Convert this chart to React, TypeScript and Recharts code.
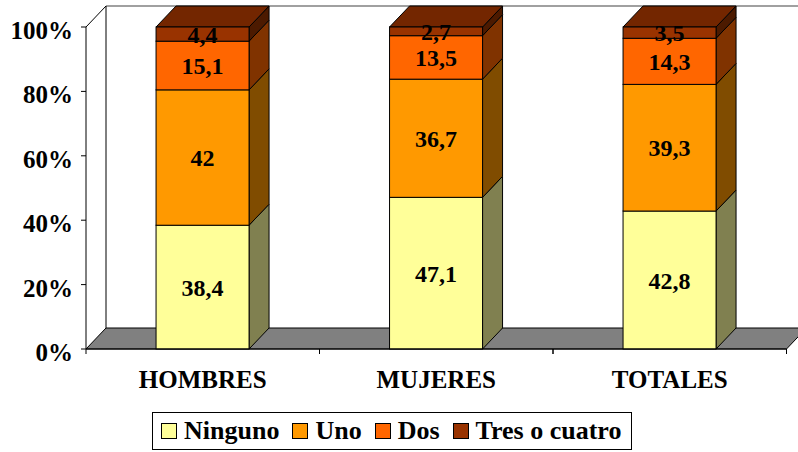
import React from 'react';
import { BarChart, Bar, XAxis, YAxis, LabelList } from 'recharts';

const categories = ['HOMBRES', 'MUJERES', 'TOTALES'];
const ninguno = [38.4, 47.1, 42.8];
const uno = [42, 36.7, 39.3];
const dos = [15.1, 13.5, 14.3];
const tres = [4.4, 2.7, 3.5];
const seriesKeys = ['ninguno', 'uno', 'dos', 'tres'];
const seriesNames = ['Ninguno', 'Uno', 'Dos', 'Tres o cuatro'];
const frontColors = ['#FFFF99', '#FF9900', '#FF6600', '#993300'];
const sideColors = ['#808050', '#804C00', '#803300', '#4C1A00'];
const topColor = '#732600';
const yTicks = [0, 0.2, 0.4, 0.6, 0.8, 1];
const yTickLabels = ['0%', '20%', '40%', '60%', '80%', '100%'];

const data = categories.map((name, i) => ({
  name,
  ninguno: ninguno[i],
  uno: uno[i],
  dos: dos[i],
  tres: tres[i],
}));

const W = 798;
const H = 452;
const M = { top: 27, right: 11.5, left: 0, bottom: 63 };
const Y_W = 86;
const X_H = 40;
const DX = 20;
const DY = 21;
const FONT = 'Liberation Serif, Times New Roman, DejaVu Serif, serif';

const PL = M.left + Y_W;
const PT = M.top;
const PR = W - M.right;
const PB = H - M.bottom - X_H;

const makeShape = (front: string, side: string, top: string | null) => (props: any) => {
  const { x, y, width, height } = props;
  if (width == null || height == null) return null;
  const w = width;
  const h = height;
  return (
    <g>
      <polygon
        points={`${x + w},${y} ${x + w + DX},${y - DY} ${x + w + DX},${y + h - DY} ${x + w},${y + h}`}
        fill={side}
        stroke="#000"
        strokeWidth={1}
      />
      {top && (
        <polygon
          points={`${x},${y} ${x + DX},${y - DY} ${x + w + DX},${y - DY} ${x + w},${y}`}
          fill={top}
          stroke="#000"
          strokeWidth={1}
        />
      )}
      <rect x={x} y={y} width={w} height={h} fill={front} stroke="#000" strokeWidth={1} />
    </g>
  );
};

const fmt = (v: any) => String(v).replace('.', ',');

const DataLabel = (props: any) => {
  const { x, y, width, height, value } = props;
  return (
    <text
      x={x + width / 2}
      y={y + height / 2}
      dy={8.5}
      textAnchor="middle"
      style={{ fontFamily: FONT, fontWeight: 'bold', fontSize: 24 }}
      fill="#000"
    >
      {fmt(value)}
    </text>
  );
};

const YTick = (props: any) => {
  const { x, y, payload } = props;
  const idx = yTicks.indexOf(payload.value);
  return (
    <text x={x} y={y + 12} textAnchor="end" style={{ fontFamily: FONT, fontWeight: 'bold', fontSize: 25 }} fill="#000">
      {idx >= 0 ? yTickLabels[idx] : ''}
    </text>
  );
};

const XTick = (props: any) => {
  const { x, y, payload } = props;
  const off = payload && payload.offset ? payload.offset : 116.75;
  const axisY = y - 7;
  return (
    <g>
      <line x1={x - off} y1={axisY} x2={x - off} y2={axisY + 5} stroke="#000" />
      <line x1={x + off} y1={axisY} x2={x + off} y2={axisY + 5} stroke="#000" />
      <text x={x} y={y + 31.5} textAnchor="middle" style={{ fontFamily: FONT, fontWeight: 'bold', fontSize: 25 }} fill="#000">
        {payload.value}
      </text>
    </g>
  );
};

const Frame = () => (
  <svg width={W} height={H} style={{ position: 'absolute', left: 0, top: 0 }}>
    <polygon points={`${PL},${PB} ${PL},${PT} ${PL + DX},${PT - DY} ${PL + DX},${PB - DY}`} fill="#fff" />
    <line x1={PL + DX} y1={PT - DY} x2={W + 10} y2={PT - DY} stroke="#808080" strokeWidth={1.5} />
    <line x1={PL} y1={PT} x2={PL + DX} y2={PT - DY} stroke="#000" />
    <line x1={PL + DX} y1={PT - DY} x2={PL + DX} y2={PB - DY} stroke="#000" />
    <polygon
      points={`${PL},${PB} ${PL + DX},${PB - DY} ${PR + DX},${PB - DY} ${PR},${PB}`}
      fill="#808080"
      stroke="#000"
      strokeWidth={1}
    />
  </svg>
);

const Legend = () => (
  <div
    style={{
      position: 'absolute',
      left: 152,
      top: 412,
      width: 480,
      height: 38,
      boxSizing: 'border-box',
      border: '1px solid #000',
      background: '#fff',
      display: 'flex',
      alignItems: 'center',
      paddingLeft: 8,
      fontFamily: FONT,
      fontWeight: 'bold',
      fontSize: 26,
      whiteSpace: 'nowrap',
    }}
  >
    {seriesNames.map((n, i) => (
      <div key={n} style={{ display: 'flex', alignItems: 'center', marginRight: 13 }}>
        <span
          style={{
            display: 'inline-block',
            width: 16,
            height: 16,
            boxSizing: 'border-box',
            border: '1px solid #000',
            background: frontColors[i],
            marginRight: 7,
          }}
        />
        <span style={{ lineHeight: '26px' }}>{n}</span>
      </div>
    ))}
  </div>
);

export default function App() {
  return (
    <div style={{ position: 'absolute', left: 0, top: 0, width: W, height: H, background: '#fff' }}>
      <Frame />
      <div style={{ position: 'absolute', left: 0, top: 0 }}>
        <BarChart width={W} height={H} data={data} margin={M} stackOffset="expand" barCategoryGap="30%">
          <XAxis
            dataKey="name"
            height={X_H}
            axisLine={{ stroke: '#000' }}
            tickLine={false}
            tickSize={5}
            tickMargin={2}
            tick={<XTick />}
            interval={0}
          />
          <YAxis
            width={Y_W}
            domain={[0, 1]}
            ticks={yTicks}
            axisLine={{ stroke: '#000' }}
            tickLine={{ stroke: '#000' }}
            tickSize={5}
            tickMargin={8}
            tick={<YTick />}
          />
          {seriesKeys.map((k, i) => (
            <Bar
              key={k}
              dataKey={k}
              stackId="a"
              name={seriesNames[i]}
              fill={frontColors[i]}
              isAnimationActive={false}
              shape={makeShape(frontColors[i], sideColors[i], i === seriesKeys.length - 1 ? topColor : null)}
            >
              <LabelList dataKey={k} content={<DataLabel />} />
            </Bar>
          ))}
        </BarChart>
      </div>
      <Legend />
    </div>
  );
}
